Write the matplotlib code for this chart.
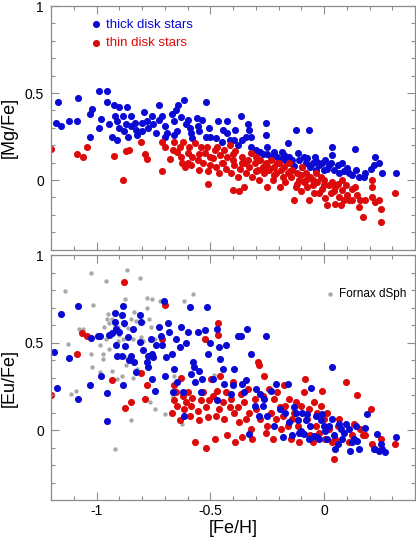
import numpy as np
import matplotlib
matplotlib.use('Agg')
import matplotlib.pyplot as plt
from matplotlib.ticker import MultipleLocator

plt.rcParams['font.family'] = ['Liberation Sans', 'DejaVu Sans']
plt.rcParams['axes.unicode_minus'] = False

# ---- [Mg/Fe] panel ----
thick_mg_feh = [-1.17, -1.18, -1.155, -1.12, -1.08, -1.085, -1.03, -1.03, -1.02, -0.99,
                -0.99, -0.955, -0.98, -0.955, -0.925, -0.945, -0.90, -0.92, -0.91, -0.93,
                -0.91, -0.885, -0.865, -0.87, -0.85, -0.85, -0.86, -0.83, -0.825, -0.82,
                -0.80, -0.79, -0.78, -0.775, -0.755, -0.75, -0.74, -0.725, -0.725, -0.71,
                -0.70, -0.69, -0.67, -0.66, -0.65, -0.64, -0.63, -0.615, -0.66, -0.645,
                -0.605, -0.60, -0.59, -0.585, -0.56, -0.555, -0.55, -0.535, -0.52, -0.52,
                -0.505, -0.475, -0.465, -0.445, -0.425, -0.425, -0.415, -0.395, -0.39, -0.365,
                -0.36, -0.345, -0.335, -0.33, -0.32, -0.32, -0.28, -0.27, -0.255, -0.255,
                -0.25, -0.235, -0.22, -0.205, -0.185, -0.175, -0.17, -0.16, -0.155, -0.14,
                -0.125, -0.115, -0.11, -0.095, -0.09, -0.075, -0.065, -0.06, -0.05, -0.035,
                -0.03, -0.02, -0.01, 0.005, 0.015, 0.02, 0.035, 0.035, 0.045, 0.06,
                0.065, 0.08, 0.09, 0.11, 0.125, 0.135, 0.14, 0.155, 0.175, 0.18,
                0.205, 0.22, 0.225, 0.24, 0.255, 0.315, -0.13, -0.08, -0.04, 0.0,
                0.03, 0.10, -0.20, -0.25, -0.30, -0.38, -0.45, -0.50, -0.58, -0.70,
                -0.80, -0.88, -0.90]
thick_mg = [0.45, 0.33, 0.31, 0.34, 0.47, 0.34, 0.25, 0.38, 0.41, 0.30,
            0.51, 0.51, 0.35, 0.45, 0.43, 0.32, 0.42, 0.37, 0.34, 0.25,
            0.23, 0.37, 0.42, 0.32, 0.37, 0.31, 0.25, 0.33, 0.29, 0.26,
            0.33, 0.39, 0.34, 0.30, 0.37, 0.32, 0.27, 0.43, 0.345, 0.37,
            0.31, 0.27, 0.38, 0.34, 0.40, 0.43, 0.36, 0.46, 0.26, 0.28,
            0.32, 0.345, 0.30, 0.27, 0.355, 0.31, 0.28, 0.345, 0.45, 0.25,
            0.30, 0.24, 0.34, 0.29, 0.34, 0.27, 0.23, 0.23, 0.29, 0.37,
            0.23, 0.25, 0.32, 0.29, 0.25, 0.19, 0.16, 0.15, 0.33, 0.26,
            0.19, 0.135, 0.16, 0.135, 0.16, 0.145, 0.115, 0.21, 0.135, 0.115,
            0.29, 0.155, 0.115, 0.075, 0.135, 0.125, 0.29, 0.075, 0.095, 0.06,
            0.105, 0.085, 0.095, 0.115, 0.065, 0.085, 0.19, 0.145, 0.06, 0.085,
            0.04, 0.095, 0.05, 0.04, 0.03, 0.18, 0.06, 0.02, 0.02, 0.04,
            0.065, 0.085, 0.135, 0.095, 0.04, 0.04, 0.08, 0.10, 0.13, 0.06,
            0.10, 0.07, 0.12, 0.15, 0.17, 0.20, 0.22, 0.25, 0.24, 0.25,
            0.28, 0.28, 0.30]

thin_mg_feh = [-1.20, -1.085, -1.06, -1.04, -0.925, -0.885, -0.87, -0.855, -0.805, -0.785,
               -0.78, -0.71, -0.71, -0.70, -0.675, -0.665, -0.66, -0.645, -0.635, -0.63,
               -0.625, -0.62, -0.61, -0.60, -0.595, -0.585, -0.58, -0.565, -0.555, -0.55,
               -0.54, -0.53, -0.525, -0.515, -0.51, -0.51, -0.50, -0.49, -0.48, -0.475,
               -0.47, -0.46, -0.455, -0.445, -0.44, -0.43, -0.425, -0.415, -0.41, -0.40,
               -0.40, -0.395, -0.39, -0.38, -0.375, -0.37, -0.36, -0.36, -0.35, -0.345,
               -0.335, -0.33, -0.32, -0.315, -0.305, -0.30, -0.29, -0.285, -0.28, -0.27,
               -0.265, -0.255, -0.25, -0.24, -0.235, -0.225, -0.22, -0.21, -0.205, -0.195,
               -0.19, -0.18, -0.175, -0.17, -0.16, -0.155, -0.145, -0.14, -0.13, -0.125,
               -0.12, -0.11, -0.10, -0.095, -0.09, -0.08, -0.075, -0.065, -0.06, -0.05,
               -0.045, -0.035, -0.03, -0.02, -0.015, -0.01, 0.0, 0.005, 0.015, 0.02,
               0.03, 0.035, 0.045, 0.05, 0.06, 0.065, 0.075, 0.08, 0.095, 0.10,
               0.11, 0.125, 0.135, 0.145, 0.155, 0.16, 0.17, 0.18, 0.21, 0.21,
               0.21, 0.225, 0.24, 0.25, 0.25, 0.31, 0.08, 0.09, 0.125, -0.35,
               -0.30, -0.25, -0.20, -0.15, -0.10, -0.05, -0.45, -0.50, -0.55, -0.60,
               -0.40, -0.22, -0.12, 0.0, 0.05, -0.08]
thin_mg = [0.18, 0.15, 0.13, 0.19, 0.14, 0.0, 0.165, 0.17, 0.22, 0.15,
           0.12, 0.05, 0.22, 0.19, 0.12, 0.17, 0.22, 0.16, 0.19, 0.135,
           0.095, 0.22, 0.075, 0.155, 0.19, 0.085, 0.135, 0.21, 0.115, 0.06,
           0.19, 0.095, 0.155, 0.19, 0.05, -0.02, 0.085, 0.125, 0.17, 0.075,
           0.19, 0.04, 0.145, 0.095, 0.17, 0.065, 0.135, 0.20, 0.04, 0.115,
           -0.06, 0.085, 0.165, 0.02, -0.065, 0.065, 0.135, 0.095, -0.04, 0.04,
           0.115, 0.075, 0.155, 0.02, 0.095, 0.135, 0.06, 0.0, 0.115, 0.075,
           0.04, 0.095, -0.04, 0.06, 0.115, 0.0, 0.075, 0.04, 0.095, -0.04,
           0.06, 0.02, 0.075, -0.01, 0.04, 0.095, 0.02, 0.06, -0.115, -0.04,
           0.04, 0.0, -0.065, 0.075, -0.01, 0.04, -0.04, -0.115, 0.02, -0.03,
           -0.075, 0.04, -0.01, -0.075, 0.02, -0.05, 0.0, -0.105, -0.145, -0.03,
           -0.075, -0.01, -0.065, -0.135, -0.02, -0.095, -0.145, -0.055, -0.03, -0.085,
           -0.115, -0.05, -0.04, -0.085, -0.155, -0.115, -0.21, -0.115, 0.0, -0.04,
           -0.095, -0.125, -0.115, -0.165, -0.24, -0.075, 0.0, -0.115, -0.115, 0.10,
           0.05, 0.08, 0.10, 0.05, 0.03, 0.0, 0.10, 0.13, 0.15, 0.10,
           0.15, 0.03, -0.02, -0.03, -0.04, 0.0]

# ---- [Eu/Fe] panel ----
thick_eu_feh = [-1.155, -1.185, -1.175, -1.12, -1.08, -1.08, -1.03, -1.025, -0.995, -0.98,
                -0.985, -0.955, -0.955, -0.945, -0.93, -0.92, -0.92, -0.915, -0.915, -0.91,
                -0.90, -0.89, -0.89, -0.885, -0.877, -0.873, -0.885, -0.86, -0.855, -0.85,
                -0.84, -0.835, -0.825, -0.81, -0.81, -0.805, -0.795, -0.78, -0.775, -0.775,
                -0.76, -0.755, -0.755, -0.75, -0.745, -0.74, -0.725, -0.715, -0.71, -0.705,
                -0.70, -0.695, -0.685, -0.68, -0.67, -0.665, -0.66, -0.65, -0.645, -0.635,
                -0.63, -0.62, -0.615, -0.605, -0.60, -0.59, -0.585, -0.575, -0.57, -0.565,
                -0.555, -0.55, -0.54, -0.535, -0.525, -0.515, -0.51, -0.50, -0.49, -0.47,
                -0.47, -0.46, -0.455, -0.445, -0.44, -0.43, -0.41, -0.40, -0.395, -0.38,
                -0.365, -0.36, -0.35, -0.345, -0.34, -0.33, -0.32, -0.305, -0.30, -0.285,
                -0.28, -0.27, -0.265, -0.255, -0.25, -0.235, -0.22, -0.21, -0.195, -0.18,
                -0.17, -0.16, -0.155, -0.14, -0.13, -0.125, -0.115, -0.11, -0.10, -0.095,
                -0.09, -0.08, -0.075, -0.065, -0.06, -0.055, -0.045, -0.035, -0.03, -0.02,
                -0.015, -0.01, 0.0, 0.005, 0.015, 0.02, 0.035, 0.035, 0.045, 0.05,
                0.06, 0.065, 0.075, 0.08, 0.09, 0.095, 0.11, 0.115, 0.125, 0.13,
                0.14, 0.145, 0.155, 0.18, 0.19, 0.235, 0.24, 0.25, 0.255, 0.27,
                0.315, 0.22]
thick_eu = [0.665, 0.445, 0.24, 0.41, 0.71, 0.18, 0.255, 0.525, 0.535, 0.31,
            0.535, 0.21, 0.05, 0.545, 0.555, 0.62, 0.67, 0.575, 0.485, 0.425,
            0.56, 0.66, 0.425, 0.71, 0.61, 0.48, 0.26, 0.53, 0.40, 0.425,
            0.58, 0.39, 0.33, 0.505, 0.655, 0.62, 0.455, 0.39, 0.36, 0.425,
            0.52, 0.435, 0.29, 0.415, 0.225, 0.485, 0.59, 0.54, 0.485, 0.735,
            0.31, 0.42, 0.61, 0.56, 0.435, 0.215, 0.35, 0.52, 0.275, 0.475,
            0.59, 0.215, 0.08, 0.50, 0.56, 0.705, 0.32, 0.39, 0.36, 0.275,
            0.56, 0.34, 0.215, 0.29, 0.57, 0.705, 0.435, 0.50, 0.29, 0.58,
            0.17, 0.475, 0.405, 0.35, 0.265, 0.485, 0.205, 0.255, 0.35, 0.535,
            0.535, 0.265, 0.215, 0.285, 0.58, -0.025, 0.435, 0.14, 0.235, 0.08,
            0.205, 0.14, 0.18, 0.535, 0.08, 0.225, 0.025, 0.265, 0.12, -0.04,
            0.10, 0.265, 0.045, -0.03, 0.13, 0.10, 0.055, -0.015, -0.005, 0.10,
            -0.025, 0.055, 0.09, -0.05, 0.025, 0.24, -0.035, 0.08, -0.04, -0.05,
            0.055, 0.09, 0.025, -0.005, -0.05, 0.025, 0.36, 0.065, -0.03, -0.11,
            -0.08, 0.035, 0.005, -0.05, -0.015, 0.035, 0.005, -0.12, -0.07, -0.05,
            0.025, -0.06, -0.11, 0.01, 0.09, -0.025, -0.12, -0.08, -0.11, -0.125,
            -0.04, -0.11]

thin_eu_feh = [-1.20, -1.085, -1.065, -1.04, -0.88, -0.93, -0.875, -0.85, -0.805, -0.785,
               -0.78, -0.71, -0.70, -0.67, -0.66, -0.66, -0.65, -0.645, -0.635, -0.63,
               -0.62, -0.615, -0.605, -0.60, -0.59, -0.585, -0.58, -0.565, -0.555, -0.55,
               -0.54, -0.53, -0.525, -0.52, -0.52, -0.51, -0.505, -0.495, -0.49, -0.48,
               -0.475, -0.47, -0.465, -0.465, -0.46, -0.455, -0.445, -0.44, -0.43, -0.425,
               -0.415, -0.41, -0.40, -0.395, -0.39, -0.38, -0.375, -0.365, -0.36, -0.35,
               -0.345, -0.335, -0.33, -0.32, -0.315, -0.305, -0.30, -0.29, -0.285, -0.28,
               -0.27, -0.265, -0.255, -0.25, -0.24, -0.235, -0.225, -0.22, -0.21, -0.205,
               -0.195, -0.19, -0.18, -0.175, -0.17, -0.16, -0.155, -0.145, -0.14, -0.13,
               -0.125, -0.115, -0.11, -0.10, -0.095, -0.09, -0.085, -0.075, -0.065, -0.06,
               -0.05, -0.045, -0.035, -0.03, -0.02, -0.015, -0.01, 0.0, 0.005, 0.015,
               0.02, 0.035, 0.045, 0.05, 0.06, 0.065, 0.095, 0.11, 0.125, 0.13,
               0.145, 0.16, 0.17, 0.18, 0.205, 0.21, 0.225, 0.25, 0.31]
thin_eu = [0.20, 0.435, 0.555, 0.54, 0.845, 0.285, 0.125, 0.16, 0.325, 0.18,
           0.255, 0.52, 0.715, 0.10, 0.255, 0.17, 0.215, 0.14, 0.055, 0.30,
           0.195, 0.12, 0.16, 0.215, 0.08, 0.14, 0.185, -0.07, 0.11, 0.055,
           0.17, 0.215, 0.52, 0.13, -0.10, 0.075, 0.17, 0.29, 0.195, -0.05,
           0.08, 0.225, 0.61, 0.545, 0.12, 0.31, 0.16, 0.065, 0.215, -0.03,
           0.13, 0.18, 0.275, 0.10, -0.07, 0.13, 0.045, 0.205, -0.04, 0.16,
           0.065, 0.235, 0.10, 0.005, -0.05, 0.18, 0.12, 0.39, 0.37, 0.065,
           0.195, 0.31, -0.015, 0.025, 0.235, 0.10, -0.05, 0.18, 0.065, 0.215,
           0.13, 0.005, 0.08, 0.255, 0.14, 0.025, 0.18, -0.05, 0.065, 0.10,
           0.16, 0.025, -0.07, 0.14, -0.015, 0.215, 0.29, 0.065, 0.12, -0.03,
           -0.07, 0.16, 0.025, 0.10, -0.015, 0.14, 0.225, 0.065, -0.05, 0.10,
           0.005, -0.07, -0.165, -0.05, 0.025, 0.065, 0.275, -0.07, -0.03, 0.035,
           0.20, 0.005, -0.03, -0.03, 0.12, -0.08, -0.11, -0.05, -0.08]

fornax_feh = [-1.025, -0.865, -0.96, -1.14, -0.81, -0.575, -1.015, -0.875, -0.78, -0.755,
              -0.72, -0.705, -0.615, -1.06, -1.125, -1.09, -1.11, -1.075, -1.025, -1.02,
              -0.985, -0.97, -0.97, -0.96, -0.965, -0.955, -0.95, -0.945, -0.935, -0.93,
              -0.905, -0.90, -0.885, -0.875, -0.87, -0.85, -0.835, -0.825, -0.805, -0.795,
              -0.78, -0.77, -0.765, -0.745, -0.70, -0.665, -0.66, -0.625, -0.92, -0.85,
              -0.55, -0.485, -0.48, -0.91, -0.985, -0.89, -0.86, -0.84, -0.795, -0.76,
              -0.745, -0.945, -0.93, -0.905, -0.82, -0.84, -0.877, -0.92]
fornax_eu = [0.90, 0.915, 0.85, 0.795, 0.87, 0.775, 0.715, 0.75, 0.755, 0.75,
             0.74, 0.715, 0.74, 0.58, 0.49, 0.225, 0.205, 0.58, 0.435, 0.36,
             0.485, 0.435, 0.405, 0.52, 0.59, 0.635, 0.665, 0.61, 0.54, 0.635,
             0.59, 0.545, 0.52, 0.415, 0.37, 0.635, 0.675, 0.625, 0.53, 0.51,
             0.70, 0.635, 0.16, 0.12, 0.09, 0.195, 0.31, 0.035, -0.11, 0.055,
             0.555, 0.315, 0.215, 0.29, 0.33, 0.31, 0.585, 0.52, 0.62, 0.59,
             0.52, 0.465, 0.34, 0.51, 0.35, 0.30, 0.60, 0.59]

blue = '#0a0ad2'
red = '#dc0a0a'
grey = '#a8a8a8'
axcol = '#8c8c8c'

fig = plt.figure(figsize=(4.16, 5.38), dpi=100)
ax1 = fig.add_axes([0.1226, 0.536, 0.875, 0.4528])
ax2 = fig.add_axes([0.1226, 0.0706, 0.875, 0.4554])

ax1.scatter(thick_mg_feh, thick_mg, s=26, color=blue, linewidths=0, label='thick disk stars')
ax1.scatter(thin_mg_feh, thin_mg, s=26, color=red, linewidths=0, label='thin disk stars')

ax2.scatter(fornax_feh, fornax_eu, s=10, color=grey, linewidths=0, label='Fornax dSph')
ax2.scatter(thin_eu_feh, thin_eu, s=26, color=red, linewidths=0)
ax2.scatter(thick_eu_feh, thick_eu, s=26, color=blue, linewidths=0)

for ax in (ax1, ax2):
    ax.set_xlim(-1.2, 0.4)
    ax.set_ylim(-0.4, 1.0)
    ax.xaxis.set_major_locator(MultipleLocator(0.5))
    ax.xaxis.set_minor_locator(MultipleLocator(0.1))
    ax.yaxis.set_major_locator(MultipleLocator(0.5))
    ax.yaxis.set_minor_locator(MultipleLocator(0.1))
    ax.tick_params(which='both', direction='in', top=True, right=True,
                   color=axcol, labelsize=10)
    ax.tick_params(which='major', length=6, width=0.8)
    ax.tick_params(which='minor', length=3, width=0.8)
    ax.tick_params(axis='y', pad=5)
    ax.tick_params(axis='x', pad=3)
    for sp in ax.spines.values():
        sp.set_color(axcol)
        sp.set_linewidth(0.9)
    ax.yaxis.set_major_formatter(plt.FuncFormatter(lambda v, p: '%g' % round(v, 2)))
    ax.xaxis.set_major_formatter(plt.FuncFormatter(lambda v, p: '%g' % round(v, 2)))

ax1.tick_params(labelbottom=False)
ax1.set_ylabel('[Mg/Fe]', fontsize=13)
ax2.set_ylabel('[Eu/Fe]', fontsize=13)
ax2.set_xlabel('[Fe/H]', fontsize=13)
ax1.yaxis.set_label_coords(-0.09, 0.5)
ax2.yaxis.set_label_coords(-0.09, 0.5)
ax2.xaxis.set_label_coords(0.5, -0.082)

ax1.legend(loc='upper left', bbox_to_anchor=(0.09, 0.97), frameon=False,
           fontsize=9.5, handlelength=1.0, handletextpad=0.3, labelspacing=0.45,
           labelcolor='markerfacecolor', borderaxespad=0)
ax2.legend(loc='upper right', bbox_to_anchor=(0.99, 0.885), frameon=False,
           fontsize=8.5, handlelength=1.0, handletextpad=0.3, borderaxespad=0)

fig.savefig('out.png', dpi=100)
